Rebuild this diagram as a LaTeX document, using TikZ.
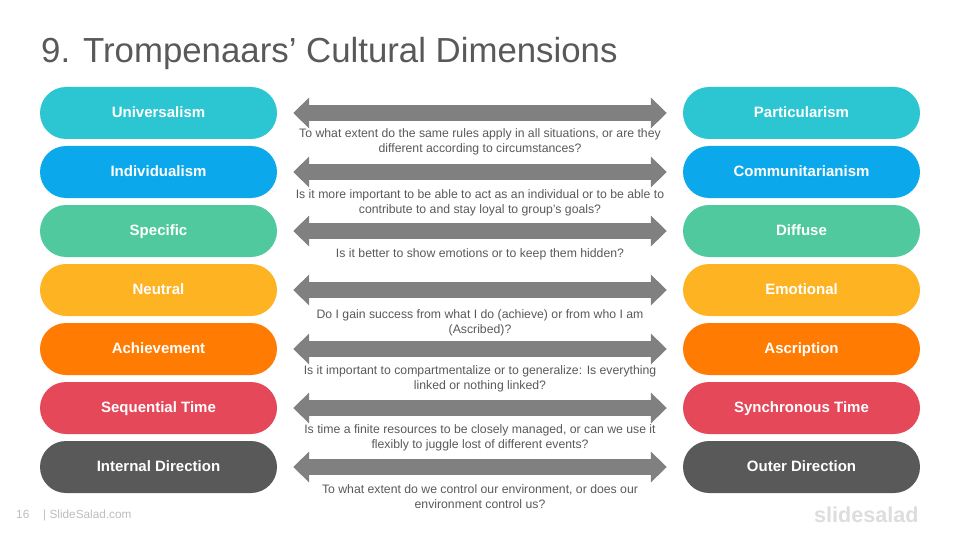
\documentclass[tikz,border=0pt]{standalone}
\usepackage{fontspec}
\setmainfont{Liberation Sans}
\usetikzlibrary{arrows.meta}
\definecolor{cTeal}{HTML}{2CC5D2}
\definecolor{cBlue}{HTML}{0BA8EC}
\definecolor{cGreen}{HTML}{4FC99D}
\definecolor{cYellow}{HTML}{FDB322}
\definecolor{cOrange}{HTML}{FF7B02}
\definecolor{cRed}{HTML}{E54858}
\definecolor{cDark}{HTML}{595959}
\definecolor{cArrow}{HTML}{808080}
\definecolor{cFoot}{HTML}{BDBDBD}
\definecolor{cLogo}{HTML}{DDDDDD}
\tikzset{
  x=1pt,y=-1pt,
  pill/.style={fill=#1,rounded corners=26pt,minimum width=237pt,minimum height=52pt,inner sep=0pt,
    text height=12pt,text depth=3pt,
    text=white,font=\fontsize{15}{18}\selectfont\bfseries,anchor=center},
  biarrow/.style={draw=cArrow,line width=16pt,shorten <=16pt,shorten >=16pt,
    {Triangle[length=16pt,width=30pt,sep=0pt]}-{Triangle[length=16pt,width=30pt,sep=0pt]}},
  desc/.style={text=cDark,font=\fontsize{12.25}{15}\selectfont,align=center,inner sep=0pt,anchor=center},
}
\begin{document}
\begin{tikzpicture}
\useasboundingbox (0,0) rectangle (960,540);
\node[anchor=base west,inner sep=0pt,text=cDark,font=\fontsize{34.8}{40}\selectfont] (title) at (41,63) {9. Trompenaars’ Cultural Dimensions};
\foreach \nm/\y/\col/\lt/\rt in {
  a/113/cTeal/Universalism/Particularism,
  b/172/cBlue/Individualism/Communitarianism,
  c/231/cGreen/Specific/Diffuse,
  d/290/cYellow/Neutral/Emotional,
  e/349/cOrange/Achievement/Ascription,
  f/408/cRed/Sequential Time/Synchronous Time,
  g/467/cDark/Internal Direction/Outer Direction}{
  \node[pill=\col] (\nm L) at (158.5,\y) {\lt};
  \node[pill=\col] (\nm R) at (801.5,\y) {\rt};
  \draw[biarrow] (\nm L.east) -- (\nm R.west);
}
\node[desc] (da) at (480,141.5) {To what extent do the same rules apply in all situations, or are they\\different according to circumstances?};
\node[desc] (db) at (480,203) {Is it more important to be able to act as an individual or to be able to\\contribute to and stay loyal to group’s goals?};
\node[desc] (dc) at (480,254) {Is it better to show emotions or to keep them hidden?};
\node[desc] (dd) at (480,322.5) {Do I gain success from what I do (achieve) or from who I am\\(Ascribed)?};
\node[desc] (de) at (480,379) {Is it important to compartmentalize or to generalize: Is everything\\linked or nothing linked?};
\node[desc] (df) at (480,438) {Is time a finite resources to be closely managed, or can we use it\\flexibly to juggle lost of different events?};
\node[desc] (dg) at (480,496.5) {To what extent do we control our environment, or does our\\environment control us?};
\node[anchor=base west,inner sep=0pt,text=cFoot,font=\fontsize{11.8}{14}\selectfont] (num) at (16,518) {16};
\node[anchor=base west,inner sep=0pt,text=cFoot,font=\fontsize{11.8}{14}\selectfont] (site) at (43,518) {| SlideSalad.com};
\node[anchor=base west,inner sep=0pt,text=cLogo,font=\fontsize{21.6}{26}\selectfont\bfseries] (logo) at (814,522) {slidesalad};
\end{tikzpicture}
\end{document}
